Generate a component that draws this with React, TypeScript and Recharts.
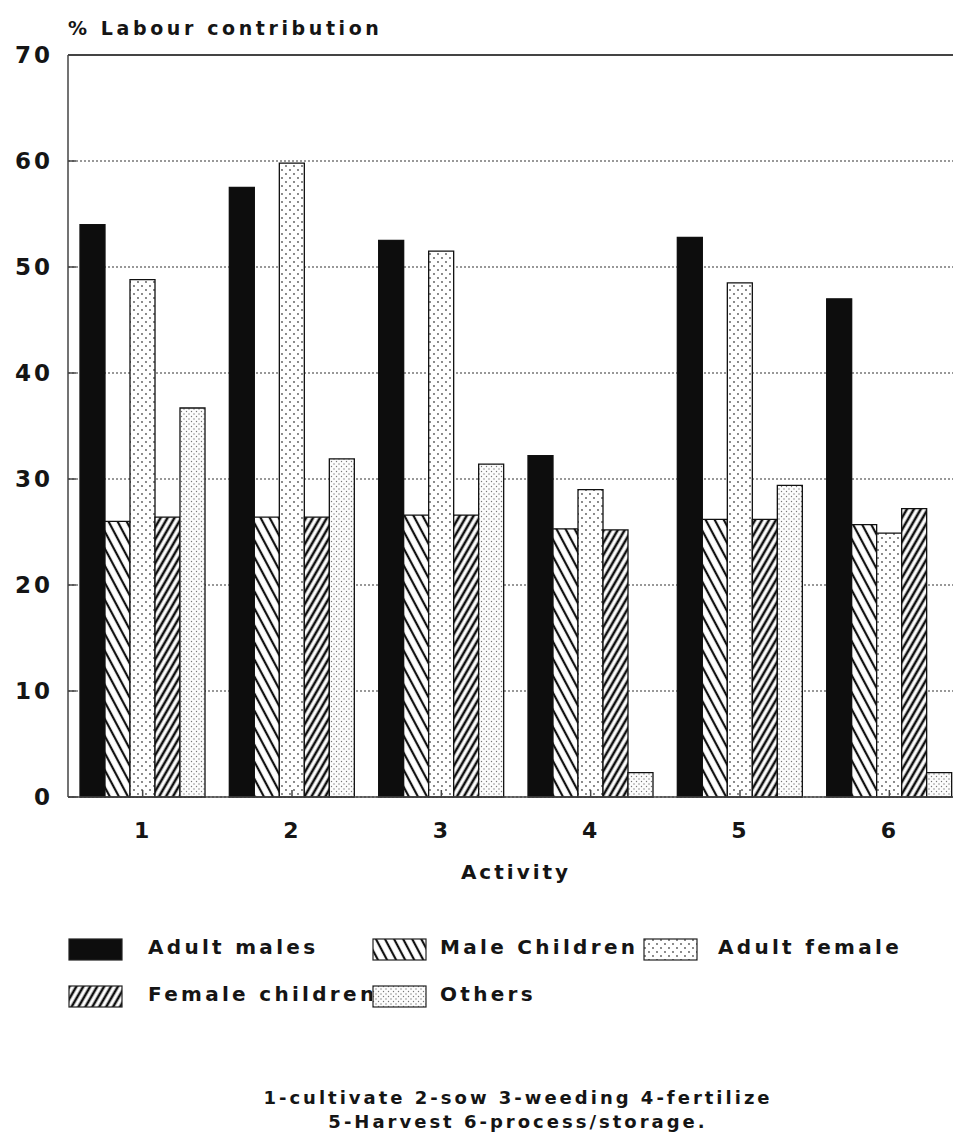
import { BarChart, Bar, XAxis, YAxis, CartesianGrid, ReferenceLine, Legend } from 'recharts';

const activities = ['1', '2', '3', '4', '5', '6'];
const adultMales = [54.0, 57.5, 52.5, 32.2, 52.8, 47.0];
const maleChildren = [26.0, 26.4, 26.6, 25.3, 26.2, 25.7];
const adultFemale = [48.8, 59.8, 51.5, 29.0, 48.5, 24.9];
const femaleChildren = [26.4, 26.4, 26.6, 25.2, 26.2, 27.2];
const others = [36.7, 31.9, 31.4, 2.3, 29.4, 2.3];
const yTicks = [0, 10, 20, 30, 40, 50, 60, 70];

const series = [
  { key: 'adultMales', name: 'Adult males', fill: '#0d0d0d' },
  { key: 'maleChildren', name: 'Male Children', fill: 'url(#pat-male-children)' },
  { key: 'adultFemale', name: 'Adult female', fill: 'url(#pat-adult-female)' },
  { key: 'femaleChildren', name: 'Female children', fill: 'url(#pat-female-children)' },
  { key: 'others', name: 'Others', fill: 'url(#pat-others)' },
];

const data = activities.map((activity, i) => ({
  activity,
  adultMales: adultMales[i],
  maleChildren: maleChildren[i],
  adultFemale: adultFemale[i],
  femaleChildren: femaleChildren[i],
  others: others[i],
}));

const FONT = 'DejaVu Sans, sans-serif';
const textStyle = { fontFamily: FONT, fontWeight: 'bold' as const, color: '#151515' };

// legend grid: 3 columns, 2 rows, like the scanned figure
const legendCols = [0, 304, 575];
const legendTextGap = [80, 68, 75];
const legendRows = [0, 47];

function PatternLegend() {
  return (
    <div style={{ position: 'relative', width: 900, height: 80 }}>
      {series.map((s, i) => {
        const col = i % 3;
        const left = legendCols[col];
        const top = legendRows[Math.floor(i / 3)];
        return (
          <div key={s.key}>
            <div
              style={{
                ...textStyle,
                position: 'absolute',
                left: left + legendTextGap[col],
                top: top - 3,
                fontSize: 20,
                letterSpacing: 3.3,
                whiteSpace: 'nowrap',
              }}
            >
              {s.name}
            </div>
            <svg
              width={56}
              height={24}
              style={{ position: 'absolute', left: left, top: top, background: '#fff' }}
            >
              <rect x={1} y={1} width={53} height={21} fill={s.fill} stroke="#222" strokeWidth={1.2} />
            </svg>
          </div>
        );
      })}
    </div>
  );
}

export default function App() {
  return (
    <div
      style={{
        position: 'absolute',
        left: 0,
        top: 0,
        width: 953,
        height: 1137,
        overflow: 'hidden',
        background: '#fff',
      }}
    >
      <div style={{ ...textStyle, position: 'absolute', left: 68, top: 17, fontSize: 19, letterSpacing: 3.6 }}>
        % Labour contribution
      </div>

      <BarChart
        width={1000}
        height={1137}
        data={data}
        margin={{ top: 55, right: 36, left: 8, bottom: 310 }}
        barGap={0}
        barSize={25}
        style={{ fontFamily: FONT }}
      >
        <defs>
          <pattern id="pat-male-children" patternUnits="userSpaceOnUse" width="8" height="8" patternTransform="rotate(-28)">
            <rect width="8" height="8" fill="#fff" />
            <line x1="3" y1="-1" x2="3" y2="9" stroke="#111" strokeWidth="2.2" />
          </pattern>
          <pattern id="pat-female-children" patternUnits="userSpaceOnUse" width="6" height="6" patternTransform="rotate(30)">
            <rect width="6" height="6" fill="#fff" />
            <line x1="2" y1="-1" x2="2" y2="7" stroke="#111" strokeWidth="2.6" />
          </pattern>
          <pattern id="pat-adult-female" patternUnits="userSpaceOnUse" width="8" height="8">
            <rect width="8" height="8" fill="#fff" />
            <circle cx="2" cy="2" r="0.9" fill="#555" />
            <circle cx="6" cy="6" r="0.9" fill="#555" />
          </pattern>
          <pattern id="pat-others" patternUnits="userSpaceOnUse" width="5" height="5">
            <rect width="5" height="5" fill="#fcfcfc" />
            <circle cx="1.5" cy="1.5" r="0.7" fill="#777" />
            <circle cx="4" cy="4" r="0.7" fill="#777" />
          </pattern>
        </defs>
        <CartesianGrid vertical={false} stroke="#777" strokeDasharray="2 2" strokeWidth={1.4} />
        <ReferenceLine y={70} stroke="#444" strokeWidth={2} ifOverflow="extendDomain" />
        <XAxis
          dataKey="activity"
          height={30}
          stroke="#444"
          strokeWidth={1.5}
          tickSize={-7}
          tickMargin={32}
          tick={{ fontSize: 22, fontWeight: 'bold', fill: '#151515', fontFamily: FONT, letterSpacing: 2 }}
          label={{
            value: 'Activity',
            position: 'bottom',
            offset: 38,
            fontSize: 20,
            fontWeight: 'bold',
            fill: '#151515',
            fontFamily: FONT,
            letterSpacing: 3,
          }}
        />
        <YAxis
          width={60}
          domain={[0, 70]}
          ticks={yTicks}
          interval={0}
          stroke="#444"
          strokeWidth={1.5}
          tickSize={-8}
          tickMargin={23}
          tick={{ fontSize: 23, fontWeight: 'bold', fill: '#151515', fontFamily: FONT, letterSpacing: 3 }}
        />
        <Legend
          layout="horizontal"
          align="center"
          verticalAlign="middle"
          wrapperStyle={{ left: 68, top: 938, width: 900, height: 80 }}
          content={() => <PatternLegend />}
        />
        {series.map((s) => (
          <Bar
            key={s.key}
            dataKey={s.key}
            name={s.name}
            fill={s.fill}
            stroke="#111"
            strokeWidth={1.3}
            isAnimationActive={false}
          />
        ))}
      </BarChart>

      <div
        style={{
          ...textStyle,
          position: 'absolute',
          left: 0,
          width: 1036,
          top: 1086,
          textAlign: 'center',
          fontSize: 18,
          letterSpacing: 3,
          lineHeight: '24px',
        }}
      >
        1-cultivate 2-sow 3-weeding 4-fertilize
        <br />
        5-Harvest 6-process/storage.
      </div>
    </div>
  );
}
